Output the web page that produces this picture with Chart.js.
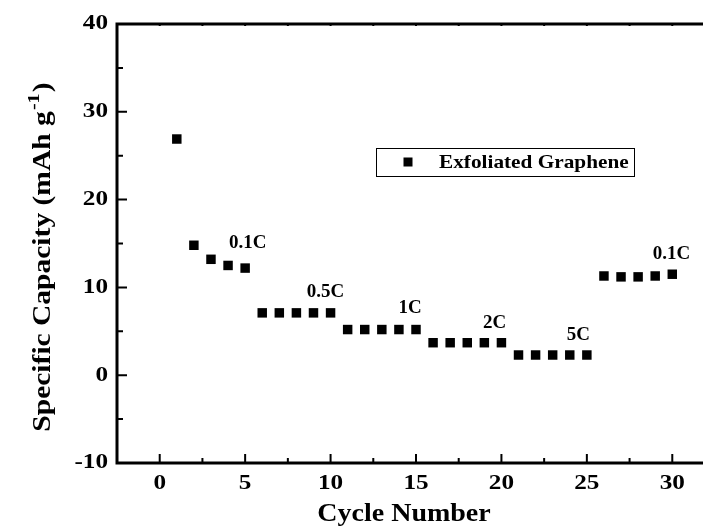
<!DOCTYPE html>
<html>
<head>
<meta charset="utf-8">
<script src="https://cdn.jsdelivr.net/npm/chart.js@4"></script>
<style>
  html, body { margin: 0; padding: 0; background: #fff; overflow: hidden; }
  #wrap { width: 730px; height: 530px; }
</style>
</head>
<body>
<div id="wrap"><canvas id="cap"></canvas></div>
<script>
/* datos: capacidad específica por ciclo */
const cycles   = [1, 2, 3, 4, 5, 6, 7, 8, 9, 10, 11, 12, 13, 14, 15, 16, 17, 18, 19, 20, 21, 22, 23, 24, 25, 26, 27, 28, 29, 30];
const capacity = [26.9, 14.8, 13.2, 12.5, 12.2, 7.1, 7.1, 7.1, 7.1, 7.1, 5.2, 5.2, 5.2, 5.2, 5.2,
                  3.7, 3.7, 3.7, 3.7, 3.7, 2.3, 2.3, 2.3, 2.3, 2.3, 11.3, 11.2, 11.2, 11.3, 11.5];
const seriesName = 'Exfoliated Graphene';

/* etiquetas de tasa C (posición en coordenadas de datos) */
const rateText = ['0.1C', '0.5C', '1C', '2C', '5C', '0.1C'];
const rateX    = [5.15, 9.7, 14.65, 19.6, 24.5, 29.95];
const rateY    = [15.0, 9.5, 7.6, 5.9, 4.55, 13.8];

const xTicks = [0, 5, 10, 15, 20, 25, 30];
const yTicks = [-10, 0, 10, 20, 30, 40];

const FONT = "'Liberation Serif', 'Times New Roman', serif";

/* Texto con estiramiento horizontal (la figura original está un poco ensanchada) */
function wideText(ctx, text, x, y, sx, align) {
  ctx.save();
  ctx.translate(x, y);
  ctx.scale(sx, 1);
  ctx.textAlign = align || 'left';
  ctx.fillText(text, 0, 0);
  ctx.restore();
}

/* Dibuja marco, ticks hacia adentro, títulos, etiquetas y leyenda */
const decor = {
  id: 'decor',
  afterDatasetsDraw(chart) {
    const { ctx, chartArea: a, scales: { x, y } } = chart;
    ctx.save();
    ctx.strokeStyle = '#000';
    ctx.fillStyle = '#000';

    // ticks menores y mayores
    ctx.lineWidth = 2;
    ctx.beginPath();
    for (let v = -10; v <= 40; v += 5) {
      const py = y.getPixelForValue(v);
      const len = v % 10 === 0 ? 10 : 6;
      ctx.moveTo(a.left, py); ctx.lineTo(a.left + len, py);
    }
    for (let v = -2.5; v <= 32.5; v += 2.5) {
      const px = x.getPixelForValue(v);
      const len = v % 5 === 0 ? 9 : 5;
      ctx.moveTo(px, a.bottom); ctx.lineTo(px, a.bottom - len);
      ctx.moveTo(px, a.top); ctx.lineTo(px, a.top + 2);
    }
    ctx.stroke();

    // marco
    ctx.lineWidth = 3;
    ctx.strokeRect(a.left, a.top, a.right - a.left, a.bottom - a.top);

    // números de los ejes
    ctx.font = 'bold 21px ' + FONT;
    ctx.textBaseline = 'middle';
    y.ticks.forEach(t => wideText(ctx, String(t.value), a.left - 9, y.getPixelForValue(t.value), 1.2, 'right'));
    ctx.textBaseline = 'alphabetic';
    x.ticks.forEach(t => wideText(ctx, String(t.value), x.getPixelForValue(t.value), 489, 1.2, 'center'));

    // etiquetas de tasa
    ctx.font = 'bold 19px ' + FONT;
    ctx.textBaseline = 'middle';
    rateText.forEach((t, i) => {
      wideText(ctx, t, x.getPixelForValue(rateX[i]), y.getPixelForValue(rateY[i]), 1.0, 'center');
    });

    // leyenda
    ctx.lineWidth = 1;
    ctx.strokeRect(376.5, 148.5, 258, 28);
    ctx.fillRect(403.5, 157.5, 9, 9);
    ctx.font = 'bold 19px ' + FONT;
    wideText(ctx, seriesName, 439, 163, 1.12, 'left');

    // título eje x
    ctx.font = 'bold 25px ' + FONT;
    ctx.textBaseline = 'alphabetic';
    wideText(ctx, 'Cycle Number', 404, 521, 1.12, 'center');

    // título eje y con superíndice
    ctx.translate(50, 257);
    ctx.rotate(-Math.PI / 2);
    ctx.scale(1.18, 1);
    const main = 'Specific Capacity (mAh g';
    const sup = '-1';
    const close = ')';
    ctx.font = 'bold 25px ' + FONT;
    const wMain = ctx.measureText(main).width;
    const wClose = ctx.measureText(close).width;
    ctx.font = 'bold 17px ' + FONT;
    const wSup = ctx.measureText(sup).width;
    let sx = -(wMain + wSup + wClose + 2) / 2;
    ctx.textAlign = 'left';
    ctx.font = 'bold 25px ' + FONT;
    ctx.fillText(main, sx, 0);
    sx += wMain + 1;
    ctx.font = 'bold 17px ' + FONT;
    ctx.fillText(sup, sx, -11);
    sx += wSup + 1;
    ctx.font = 'bold 25px ' + FONT;
    ctx.fillText(close, sx, 0);

    ctx.restore();
  }
};

new Chart(document.getElementById('cap'), {
  type: 'scatter',
  data: {
    datasets: [{
      label: seriesName,
      data: cycles.map((c, i) => ({ x: c, y: capacity[i] })),
      pointStyle: 'rect',
      pointRadius: 6.7,
      pointHoverRadius: 6.7,
      borderWidth: 0,
      backgroundColor: '#000',
    }],
  },
  options: {
    responsive: true,
    maintainAspectRatio: false,
    animation: false,
    layout: { padding: { top: 24, right: 15, left: 0, bottom: 0 } },
    plugins: {
      legend: { display: false },
      tooltip: { enabled: false },
    },
    scales: {
      x: {
        type: 'linear',
        min: -2.5,
        max: 32.5,
        afterBuildTicks: (s) => { s.ticks = xTicks.map(v => ({ value: v })); },
        afterFit: (s) => { s.height = 67; },
        grid: { display: false, drawTicks: false },
        border: { display: false },
        ticks: { display: false },
      },
      y: {
        min: -10,
        max: 40,
        afterBuildTicks: (s) => { s.ticks = yTicks.map(v => ({ value: v })); },
        afterFit: (s) => { s.width = 117; },
        grid: { display: false, drawTicks: false },
        border: { display: false },
        ticks: { display: false },
      },
    },
  },
  plugins: [decor],
});
</script>
</body>
</html>
